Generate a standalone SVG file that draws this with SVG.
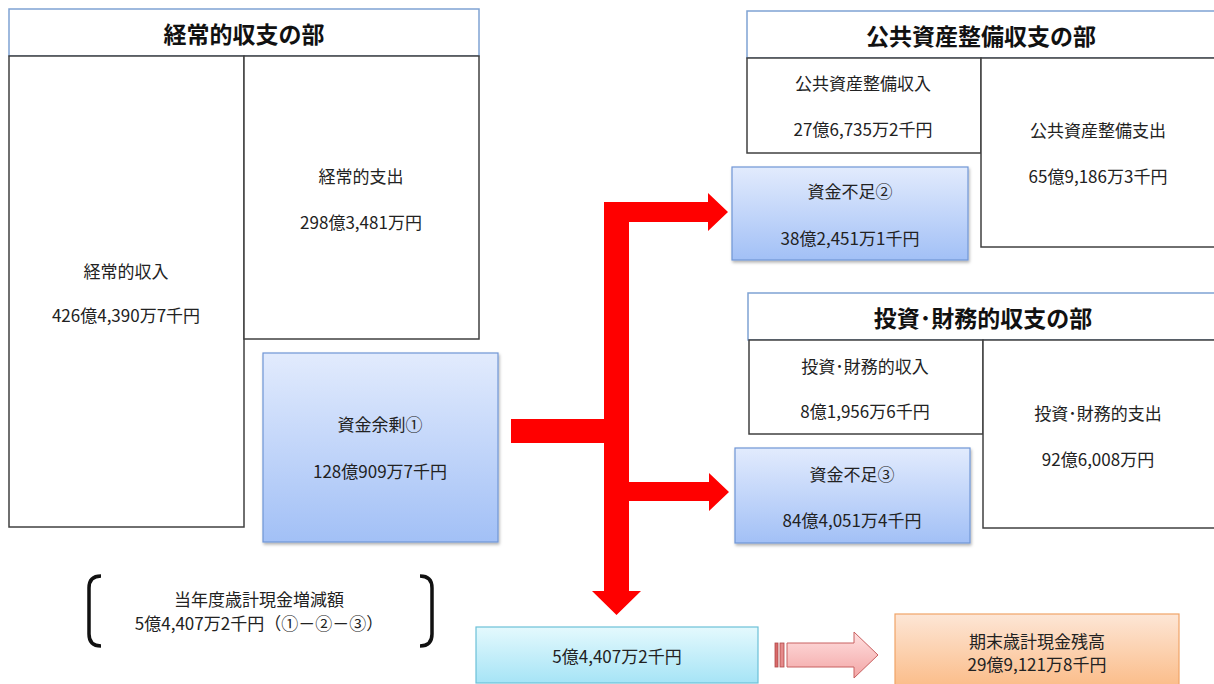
<svg xmlns="http://www.w3.org/2000/svg" width="1214" height="684" viewBox="0 0 1214 684">
<style>
text{font-family:"Noto Sans CJK JP","Noto Sans",sans-serif;fill:#222;text-anchor:middle;dominant-baseline:central}
.t{font-size:17px}
.h{font-size:23px;font-weight:bold;fill:#111}
.hd{fill:#fff;stroke:#7fa3d3;stroke-width:1.5}
.bx{fill:#fff;stroke:#404040;stroke-width:1.5}
.bl{fill:url(#gb);stroke:#7096d6;stroke-width:1.2;filter:url(#sh)}
.red{fill:#ff0000}
</style>
<defs>
<linearGradient id="gb" x1="0" y1="0" x2="0" y2="1"><stop offset="0" stop-color="#e2ebfd"/><stop offset="1" stop-color="#a2c0f6"/></linearGradient>
<linearGradient id="gc" x1="0" y1="0" x2="0" y2="1"><stop offset="0" stop-color="#e4f9fd"/><stop offset="1" stop-color="#a6e4f6"/></linearGradient>
<linearGradient id="go" x1="0" y1="0" x2="0" y2="1"><stop offset="0" stop-color="#fde6d6"/><stop offset="1" stop-color="#fbbd8a"/></linearGradient>
<linearGradient id="gp" x1="0" y1="0" x2="0" y2="1"><stop offset="0" stop-color="#ffe0e0"/><stop offset="1" stop-color="#f3a6a6"/></linearGradient>
<filter id="sh" x="-10%" y="-10%" width="125%" height="125%"><feDropShadow dx="1" dy="2" stdDeviation="1.5" flood-color="#000" flood-opacity="0.3"/></filter>
</defs>

<g id="connectors">
<path class="red" d="M511 419H604V202H708V193L728 212L708 231V222H629V482H709V473L729 492L709 511V501H629V591H641L616.5 615L592 591H604V443H511Z"/>
<g id="pink-arrow">
<rect x="775" y="643" width="3" height="24" fill="#d86a6a" stroke="#b04848" stroke-width="0.8"/>
<rect x="780" y="643" width="4" height="24" fill="#e58a8a" stroke="#b04848" stroke-width="0.8"/>
<path d="M787 643H854V632L878 655L854 678V667H787Z" fill="url(#gp)" stroke="#c86060" stroke-width="1"/>
</g>
</g>

<g id="keijo">
<rect class="hd" x="9" y="9" width="470" height="47"/>
<text class="h" x="244" y="33">経常的収支の部</text>
</g>
<g id="keijo-income">
<rect class="bx" x="9" y="56" width="235" height="471"/>
<text class="t" x="126" y="270">経常的収入</text>
<text class="t" x="126" y="314">426億4,390万7千円</text>
</g>
<g id="keijo-expense">
<rect class="bx" x="244" y="56" width="235" height="283"/>
<text class="t" x="361" y="175">経常的支出</text>
<text class="t" x="361" y="221">298億3,481万円</text>
</g>
<g id="surplus1">
<rect class="bl" x="263" y="353" width="235" height="189"/>
<text class="t" x="380" y="423">資金余剰①</text>
<text class="t" x="380" y="470">128億909万7千円</text>
</g>

<g id="koukyou">
<rect class="hd" x="747" y="11" width="475" height="47"/>
<text class="h" x="981" y="35">公共資産整備収支の部</text>
</g>
<g id="koukyou-income">
<rect class="bx" x="747" y="58" width="234" height="95"/>
<text class="t" x="863" y="82">公共資産整備収入</text>
<text class="t" x="863" y="128">27億6,735万2千円</text>
</g>
<g id="koukyou-expense">
<rect class="bx" x="981" y="58" width="240" height="189"/>
<text class="t" x="1098" y="129">公共資産整備支出</text>
<text class="t" x="1098" y="175">65億9,186万3千円</text>
</g>
<g id="shortage2">
<rect class="bl" x="732" y="167" width="236" height="93"/>
<text class="t" x="850" y="190">資金不足②</text>
<text class="t" x="850" y="237">38億2,451万1千円</text>
</g>

<g id="toushi">
<rect class="hd" x="748" y="293" width="474" height="47"/>
<text class="h" x="983" y="317">投資･財務的収支の部</text>
</g>
<g id="toushi-income">
<rect class="bx" x="749" y="340" width="234" height="94"/>
<text class="t" x="865" y="365">投資･財務的収入</text>
<text class="t" x="865" y="410">8億1,956万6千円</text>
</g>
<g id="toushi-expense">
<rect class="bx" x="983" y="340" width="238" height="188"/>
<text class="t" x="1098" y="412">投資･財務的支出</text>
<text class="t" x="1098" y="458">92億6,008万円</text>
</g>
<g id="shortage3">
<rect class="bl" x="735" y="448" width="235" height="95"/>
<text class="t" x="852" y="473">資金不足③</text>
<text class="t" x="852" y="519">84億4,051万4千円</text>
</g>

<g id="bracket-note">
<path d="M101 576Q89 576 89 588V634Q89 646 101 646" fill="none" stroke="#111" stroke-width="3.5"/>
<path d="M420 576Q432 576 432 588V634Q432 646 420 646" fill="none" stroke="#111" stroke-width="3.5"/>
<text class="t" x="259" y="598">当年度歳計現金増減額</text>
<text class="t" x="259" y="622">5億4,407万2千円（①－②－③）</text>
</g>

<g id="change">
<rect x="476" y="627" width="282" height="56" fill="url(#gc)" stroke="#6cc0d8" stroke-width="1.2"/>
<text class="t" x="617" y="655">5億4,407万2千円</text>
</g>
<g id="ending-balance">
<rect x="895" y="614" width="284" height="72" fill="url(#go)" stroke="#f0a468" stroke-width="1.2"/>
<text class="t" x="1037" y="640">期末歳計現金残高</text>
<text class="t" x="1037" y="663">29億9,121万8千円</text>
</g>
</svg>
